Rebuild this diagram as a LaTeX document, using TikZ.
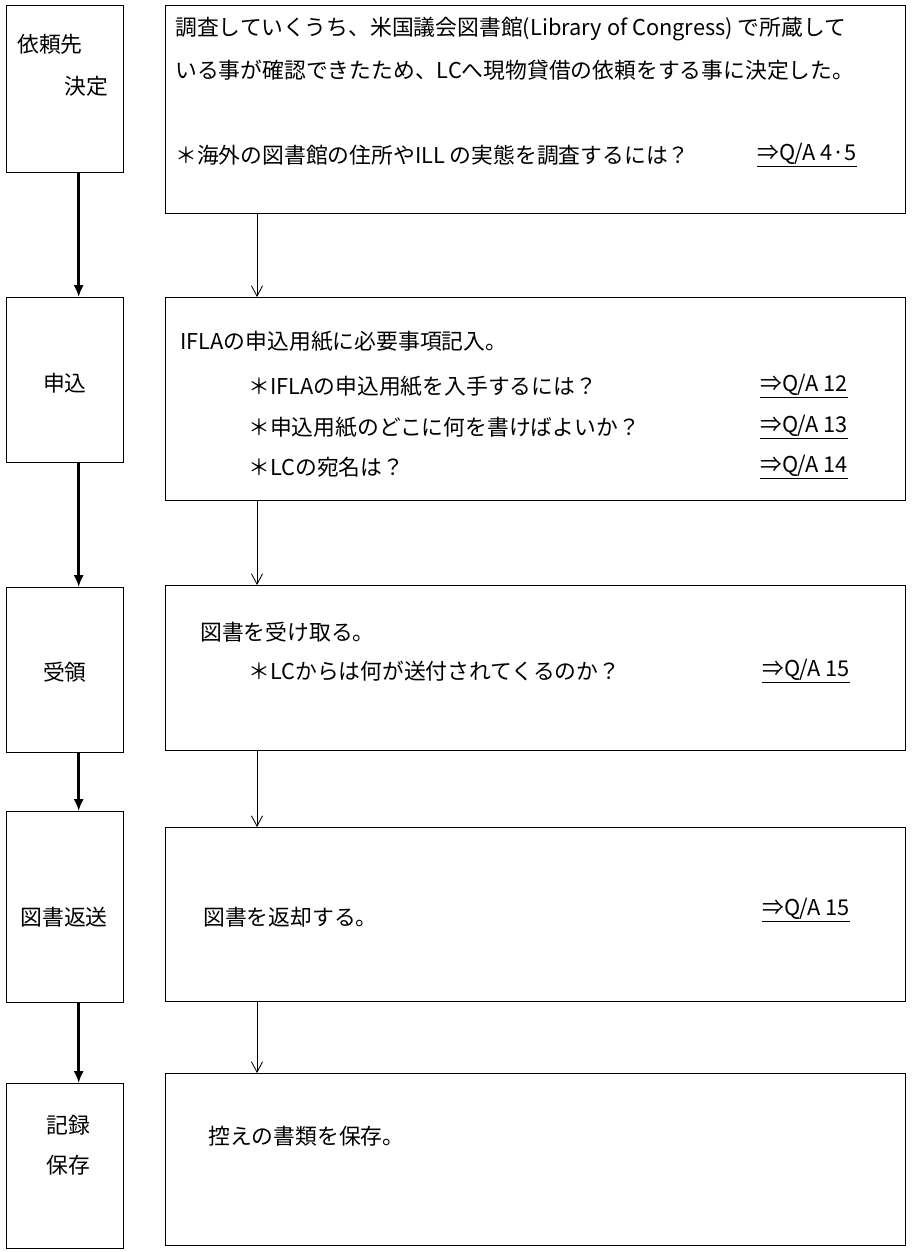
\documentclass[tikz,border=0pt]{standalone}
\usepackage{fontspec}
\setmainfont{Noto Sans CJK JP}
\usetikzlibrary{positioning, arrows.meta}
\tikzset{
  stagebox/.style={draw, line width=0.8pt, anchor=north west, inner sep=0pt,
                   minimum width=2.925cm},
  notebox/.style={draw, line width=0.8pt, anchor=north west, inner sep=0pt,
                  minimum width=18.5cm},
  txt/.style={anchor=west, inner sep=0pt, font=\fontsize{15.5}{18}\selectfont},
  stagetxt/.style={inner sep=0pt, font=\fontsize{15.5}{18}\selectfont},
  mainflow/.style={-{Latex[length=3mm, width=2.6mm]}, line width=1.8pt},
  subflow/.style={-{Straight Barb[length=2.6mm, width=2.8mm]}, line width=0.6pt},
}
\newcommand{\qaref}[1]{\underline{⇒Q/A #1}}

\begin{document}
\begin{tikzpicture}[x=0.025cm, y=-0.025cm]
  \useasboundingbox (0,0) rectangle (916,1252);

  % --- stage boxes (left column) ---
  \node[stagebox, minimum height=4.175cm] (s1) at (6,5) {};
  \node[stagebox, minimum height=4.125cm] (s2) at (6,297) {};
  \node[stagebox, minimum height=4.125cm] (s3) at (6,587) {};
  \node[stagebox, minimum height=4.775cm] (s4) at (6,811) {};
  \node[stagebox, minimum height=4.125cm] (s5) at (6,1083) {};

  \node[stagetxt] (s1a) at (50,44) {依頼先};
  \node[stagetxt] (s1b) at (86,86) {決定};
  \node[stagetxt] (s2a) at (65,383) {申込};
  \node[stagetxt] (s3a) at (65,672) {受領};
  \node[stagetxt] (s4a) at (64,917) {図書返送};
  \node[stagetxt] (s5a) at (68,1125) {記録};
  \node[stagetxt] (s5b) at (68,1165) {保存};

  % --- note boxes (right column) ---
  \node[notebox, minimum height=5.2cm] (n1) at (165,5) {};
  \node[notebox, minimum height=5.075cm] (n2) at (165,297) {};
  \node[notebox, minimum height=4.125cm] (n3) at (165,585) {};
  \node[notebox, minimum height=4.35cm] (n4) at (165,827) {};
  \node[notebox, minimum height=4.3cm] (n5) at (165,1073) {};

  \node[txt] (n1a) at (175,29) {調査していくうち、米国議会図書館(Library of Congress) で所蔵して};
  \node[txt] (n1b) at (175,70) {いる事が確認できたため、LCへ現物貸借の依頼をする事に決定した。};
  \node[txt] (n1c) at (175,155) {＊海外の図書館の住所やILL の実態を調査するには？};
  \node[txt] (n1q) at (757,155) {\qaref{4·5}};

  \node[txt] (n2a) at (180,341) {IFLAの申込用紙に必要事項記入。};
  \node[txt] (n2b) at (248,386) {＊IFLAの申込用紙を入手するには？};
  \node[txt] (n2c) at (248,427) {＊申込用紙のどこに何を書けばよいか？};
  \node[txt] (n2d) at (248,467) {＊LCの宛名は？};
  \node[txt] (n2q1) at (760,386) {\qaref{12}};
  \node[txt] (n2q2) at (760,427) {\qaref{13}};
  \node[txt] (n2q3) at (760,467) {\qaref{14}};

  \node[txt] (n3a) at (200,632) {図書を受け取る。};
  \node[txt] (n3b) at (248,671) {＊LCからは何が送付されてくるのか？};
  \node[txt] (n3q) at (762,671) {\qaref{15}};

  \node[txt] (n4a) at (203,917) {図書を返却する。};
  \node[txt] (n4q) at (762,910) {\qaref{15}};

  \node[txt] (n5a) at (208,1136) {控えの書類を保存。};

  % --- flows ---
  \foreach \a/\b in {s1/s2, s2/s3, s3/s4, s4/s5}
    \draw[mainflow] ([xshift=0.34cm]\a.south) -- ([xshift=0.34cm]\b.north);
  \foreach \a/\b in {n1/n2, n2/n3, n3/n4, n4/n5}
    \draw[subflow] ([xshift=2.3cm]\a.south west) -- ([xshift=2.3cm]\b.north west);
\end{tikzpicture}
\end{document}
